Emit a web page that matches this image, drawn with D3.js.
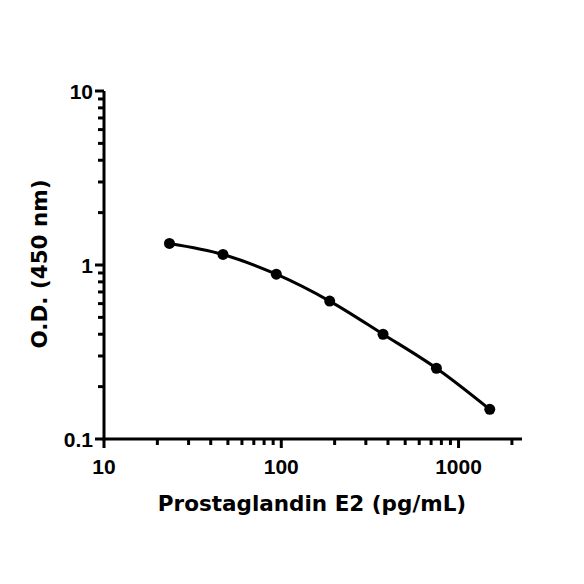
<!DOCTYPE html>
<html>
<head>
<meta charset="utf-8">
<script src="https://cdn.jsdelivr.net/npm/d3@7"></script>
<style>
    body { margin: 0; background: #fff; }
    .axis-title { font-family: "DejaVu Sans", sans-serif; font-weight: bold; font-size: 21.5px; }
</style>
</head>
<body>
<div id="container"><svg></svg></div>
<script>
let width = 584;
let height = 584;

// standard curve points
let conc = [23.4, 46.9, 93.75, 187.5, 375, 750, 1500];
let od = [1.33, 1.15, 0.885, 0.62, 0.40, 0.255, 0.148];

let x_major = [10, 100, 1000];
let y_major = [0.1, 1, 10];
let x_labels = ['10', '100', '1000'];
let y_labels = ['0.1', '1', '10'];

function draw() {
    let svg = d3.select('#container').select('svg')
        .attr('width', width)
        .attr('height', height);

    let x = d3.scaleLog().domain([10, 2280]).range([104, 522]);
    let y = d3.scaleLog().domain([0.1, 10]).range([439, 91]);

    // minor ticks
    let x_minor = [];
    for (let d = 10; d <= 1000; d *= 10) {
        for (let k = 2; k <= 9; ++k) {
            if (d * k <= 2000) x_minor.push(d * k);
        }
    }
    let y_minor = [];
    for (let d = 0.1; d < 5; d *= 10) {
        for (let k = 2; k <= 9; ++k) y_minor.push(d * k);
    }

    let g = svg.append('g');

    // x axis
    g.append('line')
        .attr('x1', x(10) - 1.5).attr('x2', x.range()[1])
        .attr('y1', y(0.1)).attr('y2', y(0.1))
        .attr('stroke', '#000').attr('stroke-width', 3);
    g.selectAll('.xminor').data(x_minor).enter().append('line')
        .attr('x1', d => x(d)).attr('x2', d => x(d))
        .attr('y1', y(0.1)).attr('y2', y(0.1) + 6)
        .attr('stroke', '#000').attr('stroke-width', 3);
    g.selectAll('.xmajor').data(x_major).enter().append('line')
        .attr('x1', d => x(d)).attr('x2', d => x(d))
        .attr('y1', y(0.1)).attr('y2', y(0.1) + 9)
        .attr('stroke', '#000').attr('stroke-width', 3);
    g.selectAll('.xlab').data(x_major).enter().append('text')
        .attr('font-family', 'Liberation Sans, Arial, sans-serif')
        .attr('font-weight', 'bold')
        .attr('font-size', 21)
        .attr('x', d => x(d)).attr('y', y(0.1) + 35)
        .attr('text-anchor', 'middle')
        .text((d, i) => x_labels[i]);

    // y axis
    g.append('line')
        .attr('x1', x(10)).attr('x2', x(10))
        .attr('y1', y(0.1) + 1.5).attr('y2', y(10))
        .attr('stroke', '#000').attr('stroke-width', 3);
    g.selectAll('.yminor').data(y_minor).enter().append('line')
        .attr('x1', x(10)).attr('x2', x(10) - 6)
        .attr('y1', d => y(d)).attr('y2', d => y(d))
        .attr('stroke', '#000').attr('stroke-width', 3);
    g.selectAll('.ymajor').data(y_major).enter().append('line')
        .attr('x1', x(10)).attr('x2', x(10) - 9)
        .attr('y1', d => y(d)).attr('y2', d => y(d))
        .attr('stroke', '#000').attr('stroke-width', 3);
    g.selectAll('.ylab').data(y_major).enter().append('text')
        .attr('font-family', 'Liberation Sans, Arial, sans-serif')
        .attr('font-weight', 'bold')
        .attr('font-size', 21)
        .attr('x', x(10) - 11).attr('y', d => y(d) + 7.5)
        .attr('text-anchor', 'end')
        .text((d, i) => y_labels[i]);

    // fitted curve
    let pts = conc.map((c, i) => [c, od[i]]);
    let line = d3.line()
        .x(d => x(d[0]))
        .y(d => y(d[1]))
        .curve(d3.curveMonotoneX);
    g.append('path')
        .datum(pts)
        .attr('d', line)
        .attr('fill', 'none')
        .attr('stroke', '#000')
        .attr('stroke-width', 3);

    g.selectAll('.pt').data(pts).enter().append('circle')
        .attr('cx', d => x(d[0])).attr('cy', d => y(d[1]))
        .attr('r', 5.5)
        .attr('fill', '#000');

    // titles
    svg.append('text')
        .attr('class', 'axis-title')
        .attr('x', 312).attr('y', 511)
        .attr('text-anchor', 'middle')
        .text('Prostaglandin E2 (pg/mL)');
    svg.append('text')
        .attr('class', 'axis-title')
        .attr('transform', 'translate(47,264) rotate(-90)')
        .attr('text-anchor', 'middle')
        .text('O.D. (450 nm)');
}

draw();
</script>
</body>
</html>
